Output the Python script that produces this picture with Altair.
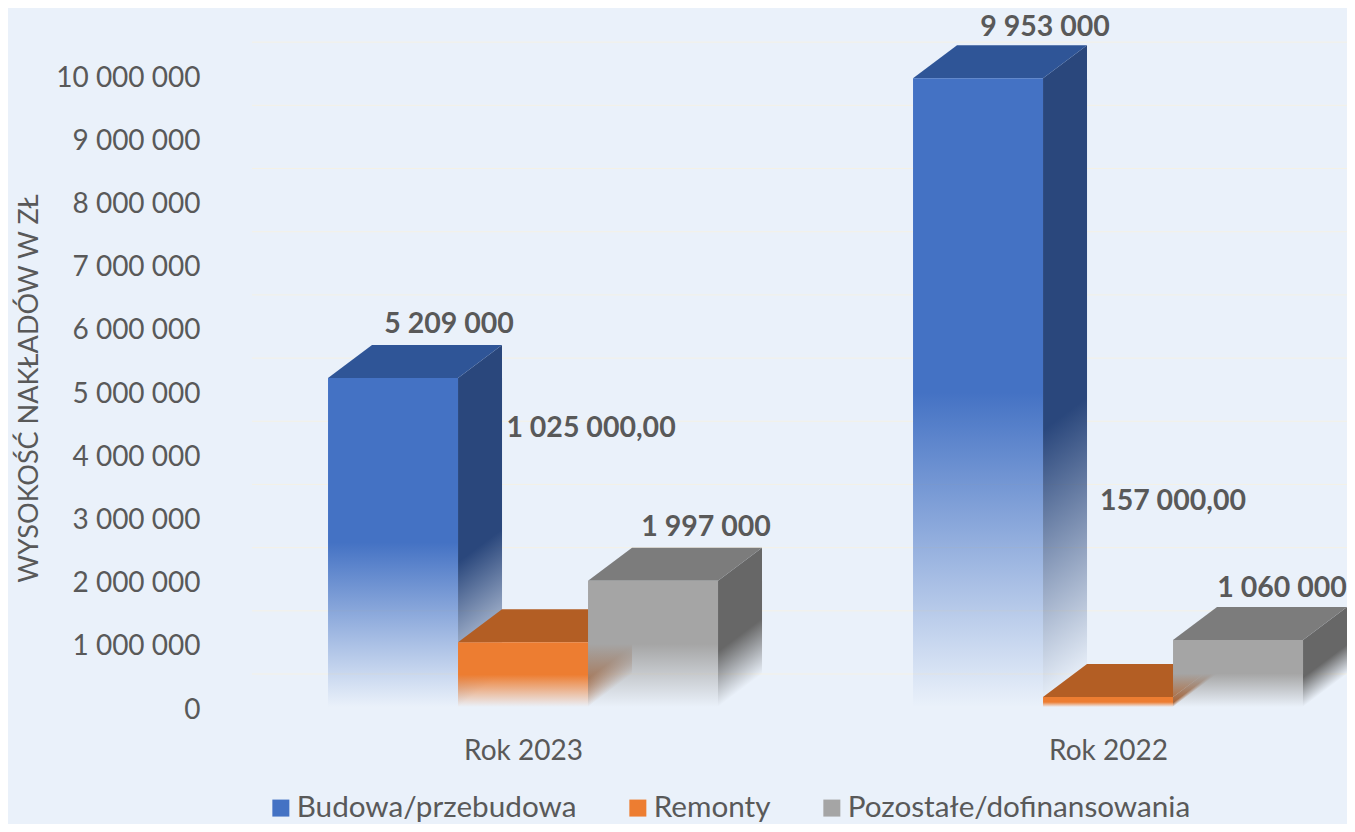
import altair as alt
import pandas as pd

categories = ["Rok 2023", "Rok 2022"]
series = ["Budowa/przebudowa", "Remonty", "Pozostałe/dofinansowania"]
values = {
    "Budowa/przebudowa": [5209000, 9953000],
    "Remonty": [1025000, 157000],
    "Pozostałe/dofinansowania": [1997000, 1060000],
}
labels = {
    "Budowa/przebudowa": ["5 209 000", "9 953 000"],
    "Remonty": ["1 025 000,00", "157 000,00"],
    "Pozostałe/dofinansowania": ["1 997 000", "1 060 000"],
}
ticks = [i * 1000000 for i in range(11)]

front_col = {"Budowa/przebudowa": "#4472C4", "Remonty": "#ED7D31", "Pozostałe/dofinansowania": "#A5A5A5"}
top_col = {"Budowa/przebudowa": "#2F5597", "Remonty": "#B35E24", "Pozostałe/dofinansowania": "#7C7C7C"}
side_col = {"Budowa/przebudowa": "#2A477C", "Remonty": "#A85C2A", "Pozostałe/dofinansowania": "#676767"}
label_off = {
    "Budowa/przebudowa": [(56, -54), (67, -51)],
    "Remonty": [(68, -214), (65, -196)],
    "Pozostałe/dofinansowania": [(53, -54), (44, -52)],
}

TEXT = "#595959"
FONT = "Lato"
BG = "#EAF1FA"
W, H = 1139, 695
X_DOM = [-0.5385, 1.4085]
Y_DOM = [0, 11000000]
PX_X = W / (X_DOM[1] - X_DOM[0])
PX_Y = H / Y_DOM[1]
BAR = 130 / PX_X
DX = 44 / PX_X
DY = 33 / PX_Y

xs = alt.Scale(domain=X_DOM, nice=False, zero=False)
ys = alt.Scale(domain=Y_DOM, nice=False)


def rgba0(hex_c):
    r, g, b = int(hex_c[1:3], 16), int(hex_c[3:5], 16), int(hex_c[5:7], 16)
    return f"rgba({r},{g},{b},0)"


def fade(col, x1=0, y1=0, x2=0, y2=1, solid=0.5):
    return alt.Gradient(
        gradient="linear", x1=x1, y1=y1, x2=x2, y2=y2,
        stops=[
            alt.GradientStop(offset=0, color=col),
            alt.GradientStop(offset=solid, color=col),
            alt.GradientStop(offset=1, color=rgba0(col)),
        ],
    )


X = alt.X("x:Q", scale=xs, title=None,
          axis=alt.Axis(values=[0, 1], labelExpr="datum.value == 0 ? 'Rok 2023' : 'Rok 2022'",
                        domain=False, ticks=False, grid=False, labelFont=FONT, labelFontSize=28,
                        labelColor=TEXT, labelPadding=30))
Y = alt.Y("y:Q", scale=ys, title="WYSOKOŚĆ NAKŁADÓW W ZŁ",
          axis=alt.Axis(values=ticks, labelExpr="replace(format(datum.value, ','), /,/g, ' ')",
                        domain=False, ticks=False, grid=False, labelFont=FONT, labelFontSize=28,
                        labelColor=TEXT, labelPadding=8, labelOffset=3, titleFont=FONT, titleFontSize=27,
                        titleFontWeight="normal", titleColor=TEXT, titleX=-165, titleY=376))

grid = alt.Chart(pd.DataFrame({
    "y": [t + DY for t in ticks],
    "x": [X_DOM[0] + DX] * len(ticks),
    "x2": [X_DOM[1]] * len(ticks),
})).mark_rule(color="#F4F1E6", strokeWidth=1).encode(x=X, x2="x2:Q", y=Y)

layers = [grid]
for si, s in enumerate(series):
    for ci, c in enumerate(categories):
        v = values[s][ci]
        x0 = ci + (si - 1.5) * BAR
        x1 = x0 + BAR
        # side face
        h = v * PX_Y
        k = 33 / (h + 33)
        t = (1 - k) / (1 + k * k)
        side = pd.DataFrame({
            "x": [x1, x1 + DX],
            "y": [v, v + DY],
            "y2": [0, DY],
        })
        layers.append(
            alt.Chart(side).mark_area(
                color=fade(side_col[s], 0, k, t * k, k + t, solid=0.56), line=False
            ).encode(x=X, y=Y, y2="y2:Q")
        )
        # top face
        top = pd.DataFrame({
            "x": [x0, x0 + DX, x1, x1 + DX],
            "y": [v, v + DY, v + DY, v + DY],
            "y2": [v, v, v, v + DY],
        })
        layers.append(alt.Chart(top).mark_area(color=top_col[s]).encode(x=X, y=Y, y2="y2:Q"))
        # front face
        front = pd.DataFrame({"x": [x0], "x2": [x1], "y": [v], "y2": [0]})
        layers.append(
            alt.Chart(front).mark_bar(color=fade(front_col[s])).encode(x=X, x2="x2:Q", y=Y, y2="y2:Q")
        )

for si, s in enumerate(series):
    for ci, c in enumerate(categories):
        x0 = ci + (si - 1.5) * BAR
        ox, oy = label_off[s][ci]
        lab = pd.DataFrame({"x": [x0 + BAR / 2], "y": [values[s][ci]], "t": [labels[s][ci]]})
        layers.append(
            alt.Chart(lab).mark_text(font=FONT, fontSize=28.5, fontWeight="bold", color=TEXT,
                                     dx=ox, dy=oy, align="center", baseline="middle")
            .encode(x=X, y=Y, text="t:N")
        )

legend_df = pd.DataFrame({"x": [0, 0, 0], "y": [0, 0, 0], "s": series})
layers.append(
    alt.Chart(legend_df).mark_square(size=0, opacity=0).encode(
        x=X, y=Y,
        color=alt.Color("s:N", title=None,
                        scale=alt.Scale(domain=series, range=[front_col[s] for s in series]),
                        legend=alt.Legend(orient="none", legendX=58, legendY=781, direction="horizontal",
                                          symbolType="square", symbolSize=289, symbolOpacity=1,
                                          symbolStrokeWidth=0, labelFont=FONT, labelFontSize=29.7,
                                          labelColor=TEXT, labelLimit=500, columnPadding=46,
                                          labelOffset=1)),
    )
)

chart = alt.layer(*layers).resolve_scale(x="shared", y="shared").properties(
    width=W, height=H, background=BG,
    autosize=alt.AutoSizeParams(type="none"),
    padding={"left": 200, "top": 4, "right": 0, "bottom": 117},
).configure_view(stroke=None)

chart.save("out.html", embed_options={"renderer": "svg", "actions": False})
